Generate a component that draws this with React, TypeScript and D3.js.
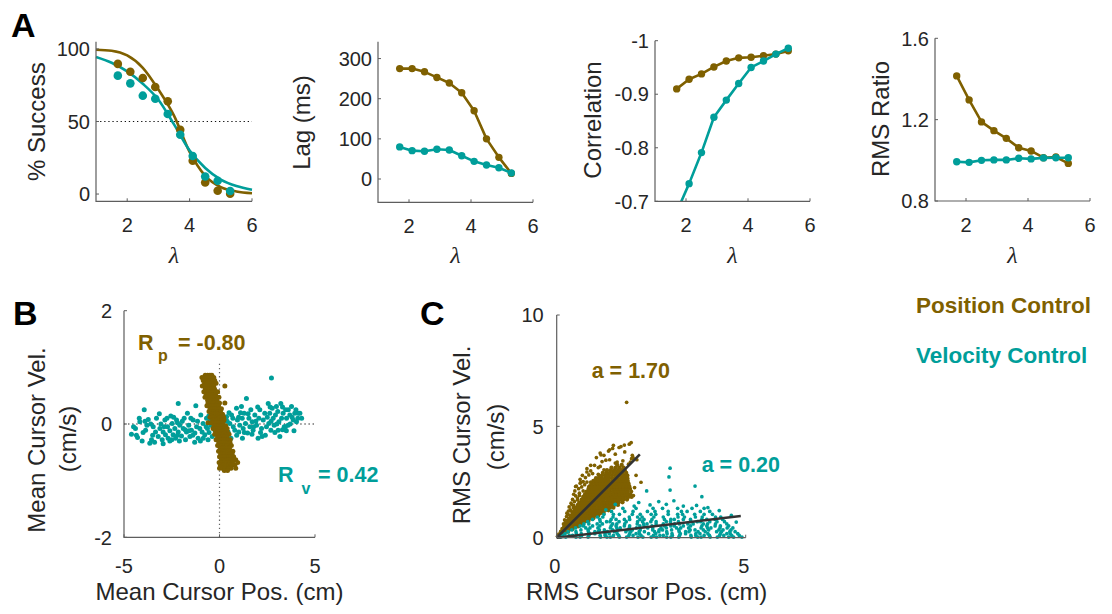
import React from "react";
import * as d3 from "d3";

const BROWN = "#7F6000";
const TEAL = "#009E9A";
const AXIS = "#5E5E5E";
const INK = "#262626";
const SANS = "'Liberation Sans', Arial, Helvetica, sans-serif";
const SERIF = "'Liberation Serif', 'Times New Roman', serif";

// ---------- Panel A data ----------
const lambdas = [1.7, 2.1, 2.5, 2.9, 3.3, 3.7, 4.1, 4.5, 4.9, 5.3];
const successPos = [89.7, 84.3, 80, 73.8, 63.9, 44.3, 23, 8, 2.3, 0.2];
const successVel = [81.6, 76.3, 67.8, 65.7, 55.2, 40.9, 26.2, 12.1, 9.2, 2.1];
const fitLambdas = [1, 1.5, 2, 2.5, 3, 3.5, 4, 4.5, 5, 5.5, 6];
const successFitPos = [99.5, 98.8, 95.5, 87, 72, 54, 29, 12.5, 4.8, 1.8, 0.6];
const successFitVel = [94.5, 90.5, 84.5, 76, 65, 48, 30, 18, 10, 5.5, 3];
const lagPos = [275, 275, 267, 253, 239, 215, 170, 100, 54, 14];
const lagVel = [80, 70.6, 69, 74, 72.3, 58, 44, 35, 28, 15];
const corrPos = [-0.91, -0.928, -0.938, -0.951, -0.962, -0.968, -0.969, -0.972, -0.975, -0.981];
const corrVel = [-0.68, -0.733, -0.791, -0.857, -0.889, -0.92, -0.95, -0.962, -0.975, -0.986];
const rmsPos = [1.415, 1.297, 1.189, 1.146, 1.108, 1.062, 1.046, 1.013, 1.016, 0.985];
const rmsVel = [0.993, 0.99, 1.0, 1.002, 1.002, 1.01, 1.007, 1.012, 1.013, 1.013];

const lambdaTicks = [2, 4, 6];
const successTicks = [0, 50, 100];
const lagTicks = [0, 100, 200, 300];
const corrTicks = [-1, -0.9, -0.8, -0.7];
const corrTickLabels = ["-1", "-0.9", "-0.8", "-0.7"];
const rmsTicks = [0.8, 1.2, 1.6];
const rmsTickLabels = ["0.8", "1.2", "1.6"];

// ---------- Panel B data: [mean cursor pos, mean cursor vel] ----------
const bVelCtrl: [number, number][] = [
  [-4.61, -0.18], [-4.29, -0.24], [-4.17, 0.04], [-3.94, 0.25], [-3.87, -0.11], [-3.73, 0.08], [-3.65, -0.34],
  [-3.56, -0.28], [-3.47, -0.05], [-3.35, -0.14], [-3.3, 0.1], [-3.21, -0.22], [-3.12, -0.08], [-3.07, 0.0],
  [-3.0, -0.28], [-2.95, -0.14], [-2.86, 0.07], [-2.83, -0.19], [-2.72, -0.05], [-2.69, -0.25], [-2.6, -0.12],
  [-2.55, 0.14], [-2.48, 0.01], [-2.43, -0.19], [-2.34, -0.08], [-2.3, -0.25], [-2.25, 0.07], [-2.16, 0.36],
  [-2.16, -0.14], [-2.08, -0.02], [-1.99, -0.21], [-1.9, -0.08], [-1.85, 0.1], [-1.78, -0.28], [-1.73, -0.14],
  [-1.68, 0.19], [-1.61, -0.02], [-1.55, -0.22], [-1.47, -0.11], [-1.38, 0.07], [-1.29, -0.16], [-1.24, 0.32],
  [-1.2, -0.05], [-1.12, -0.25], [-1.03, -0.08], [-0.98, 0.16], [-0.91, -0.14], [-0.86, 0.01], [-0.77, -0.19],
  [-0.68, 0.1], [-0.63, -0.08], [-0.56, 0.14], [-0.45, -0.02], [-0.38, -0.22], [-0.33, 0.04],
  [-0.24, -0.11], [-0.16, 0.1], [-0.07, -0.16], [0.1, -0.02], [0.19, -0.22],
  [0.28, -0.05], [0.37, 0.13], [0.45, -0.14], [0.54, 0.01], [0.63, 0.16], [0.72, -0.05], [0.8, -0.11],
  [0.89, 0.28], [0.94, 0.07], [1.01, -0.14], [1.06, -0.02], [1.15, 0.31], [1.19, 0.1], [1.24, -0.08],
  [1.29, 0.19], [1.36, 0.01], [1.41, 0.45], [1.47, -0.16], [1.54, 0.1], [1.59, -0.05], [1.64, 0.25],
  [1.71, 0.04], [1.76, -0.11], [1.85, 0.16], [1.94, -0.02], [2.02, -0.25], [2.06, 0.1], [2.11, 0.25],
  [2.2, -0.08], [2.23, -0.22], [2.29, 0.07], [2.37, 0.19], [2.46, -0.05], [2.55, 0.36], [2.58, 0.01],
  [2.63, 0.19], [2.69, -0.11], [2.72, 0.81], [2.76, 0.28], [2.81, 0.1], [2.86, -0.02], [2.93, 0.16],
  [2.98, 0.31], [3.07, -0.11], [3.11, 0.04], [3.16, -0.22], [3.21, 0.36], [3.25, 0.1], [3.33, 0.19],
  [3.39, -0.05], [3.46, 0.25], [3.51, 0.1], [3.59, -0.02], [3.68, 0.16], [3.77, 0.31], [3.86, 0.07],
  [3.94, 0.19], [4.03, 0.04], [4.12, 0.19], [4.21, 0.19],
  [-4.0, -0.15], [-3.5, -0.2], [-2.9, -0.05], [-2.5, -0.28], [-2.1, -0.3], [-1.6, -0.12], [-1.0, -0.3],
  [-0.6, -0.28], [0.6, -0.25], [1.2, -0.25], [1.9, 0.05], [2.4, -0.2], [3.0, 0.0], [3.5, -0.12],
  [3.8, 0.12], [4.0, 0.25], [-4.4, -0.08], [-3.8, -0.02], [-2.2, 0.02], [-1.4, -0.2], [-0.5, 0.05],
  [0.4, 0.05], [1.0, 0.12], [1.7, -0.18], [2.7, 0.05], [3.3, -0.1], [4.3, 0.1],
  [-4.5, -0.05], [-4.35, -0.2], [-4.05, -0.3], [-3.9, 0.05], [-3.6, 0.0], [-3.4, -0.32], [-3.15, 0.18],
  [-2.95, -0.35], [-2.75, 0.1], [-2.6, -0.3], [-2.4, 0.12], [-2.2, -0.2], [-1.95, 0.05], [-1.8, -0.1],
  [-1.5, 0.1], [-1.3, -0.32], [-1.15, 0.05], [-0.85, -0.25], [-0.7, -0.05], [-0.55, -0.15], [0.5, 0.2],
  [0.7, 0.1], [0.9, -0.2], [1.1, 0.2], [1.3, -0.15], [1.5, 0.18], [1.8, -0.05], [2.0, 0.3], [2.15, -0.15],
  [2.5, 0.12], [2.65, 0.3], [2.9, -0.15], [3.05, 0.22], [3.3, 0.3], [3.45, -0.05], [3.6, 0.25], [3.7, 0.0],
  [3.9, -0.12], [4.1, 0.1], [-4.2, 0.1],
];
// Position control: rows of [mean cursor vel, then mean cursor pos values at that velocity]
const bPosRows: number[][] = [
  [0.86, -0.75, -0.62, -0.5, -0.4],
  [0.82, -0.92, -0.8, -0.68, -0.56, -0.44, -0.3],
  [0.77, -0.85, -0.72, -0.6, -0.48, -0.36, -0.25],
  [0.72, -0.78, -0.66, -0.54, -0.42, -0.3, -0.18],
  [0.67, -0.9, -0.77, -0.64, -0.52, -0.4, -0.3, 0.28],
  [0.62, -0.74, -0.62, -0.5, -0.38, -0.26],
  [0.57, -0.82, -0.7, -0.58, -0.46, -0.34, -0.22, -0.1],
  [0.52, -0.7, -0.57, -0.45, -0.33, -0.21],
  [0.47, -0.76, -0.63, -0.5, -0.38, -0.26, -0.14, -0.03],
  [0.42, -0.62, -0.5, -0.38, -0.26, -0.14],
  [0.37, -0.6, -0.47, -0.35, -0.23, -0.11, 0.0, 0.28],
  [0.32, -0.66, -0.53, -0.41, -0.29, -0.17, -0.05],
  [0.27, -0.5, -0.38, -0.26, -0.14, -0.02, 0.1],
  [0.22, -0.55, -0.43, -0.31, -0.19, -0.07, 0.05],
  [0.17, -0.44, -0.32, -0.2, -0.08, 0.04, 0.16],
  [0.12, -0.5, -0.37, -0.25, -0.13, -0.01, 0.11, 0.22],
  [0.07, -0.36, -0.24, -0.12, 0.0, 0.12, 0.24],
  [0.02, -0.6, -0.42, -0.3, -0.18, -0.06, 0.06, 0.18],
  [-0.03, -0.28, -0.16, -0.04, 0.08, 0.2, 0.32],
  [-0.08, -0.34, -0.22, -0.1, 0.02, 0.14, 0.26, 0.4],
  [-0.13, -0.2, -0.08, 0.04, 0.16, 0.28, 0.4],
  [-0.18, -0.25, -0.13, 0.0, 0.12, 0.24, 0.36, 0.5],
  [-0.23, -0.1, 0.02, 0.14, 0.26, 0.38],
  [-0.28, -0.18, -0.05, 0.08, 0.2, 0.32, 0.44, 0.56],
  [-0.33, -0.04, 0.08, 0.2, 0.32, 0.44, 0.55],
  [-0.38, -0.1, 0.02, 0.14, 0.26, 0.38, 0.5, 0.62],
  [-0.43, 0.04, 0.16, 0.28, 0.4, 0.52],
  [-0.48, -0.05, 0.08, 0.2, 0.32, 0.44, 0.56, 0.7],
  [-0.53, 0.06, 0.18, 0.3, 0.42, 0.55, 0.66],
  [-0.58, 0.0, 0.12, 0.24, 0.36, 0.48, 0.6, 0.74],
  [-0.63, 0.1, 0.22, 0.34, 0.46, 0.58, 0.72, 0.85],
  [-0.68, -0.02, 0.12, 0.26, 0.4, 0.54, 0.68, 0.95],
  [-0.73, 0.05, 0.2, 0.35, 0.5, 0.62, 0.8],
  [-0.78, 0.0, 0.15, 0.3, 0.46, 0.6, 0.85],
  [-0.82, 0.25, 0.42],
];
const rowsToPoints = (rows: number[][]) =>
  rows.flatMap(([y, ...xs]) => xs.map((x) => [x, y] as [number, number]));
const bPosCtrl = rowsToPoints(bPosRows);
const bZeroLineTop = 1.1;

// ---------- Panel C data: rows of [rms cursor vel, then rms cursor pos values] ----------
const cPosRows: number[][] = [
  [0.06, 0.03, 0.06],
  [0.15, 0.06, 0.1, 0.15],
  [0.27, 0.11, 0.16, 0.2, 0.26, 0.3],
  [0.39, 0.15, 0.2, 0.26, 0.31, 0.37, 0.42],
  [0.51, 0.2, 0.25, 0.31, 0.36, 0.42, 0.47, 0.53, 0.57],
  [0.63, 0.24, 0.3, 0.35, 0.41, 0.47, 0.52, 0.58, 0.64, 0.7],
  [0.75, 0.28, 0.34, 0.41, 0.46, 0.53, 0.58, 0.65, 0.71, 0.77, 0.84],
  [0.87, 0.33, 0.39, 0.46, 0.52, 0.59, 0.65, 0.72, 0.78, 0.85, 0.9, 0.97],
  [0.99, 0.37, 0.44, 0.5, 0.58, 0.64, 0.71, 0.77, 0.85, 0.91, 0.98, 1.03, 1.1],
  [1.11, 0.42, 0.49, 0.55, 0.62, 0.7, 0.76, 0.83, 0.9, 0.97, 1.04, 1.11, 1.16, 1.24],
  [1.23, 0.47, 0.54, 0.6, 0.68, 0.75, 0.82, 0.88, 0.96, 1.03, 1.1, 1.17, 1.24, 1.28, 1.37],
  [1.35, 0.51, 0.58, 0.66, 0.72, 0.8, 0.87, 0.94, 1.01, 1.09, 1.15, 1.23, 1.3, 1.37, 1.41, 1.5],
  [1.47, 0.56, 0.63, 0.7, 0.78, 0.85, 0.92, 1.0, 1.07, 1.14, 1.22, 1.29, 1.36, 1.44, 1.52, 1.62],
  [1.59, 0.6, 0.68, 0.75, 0.82, 0.9, 0.97, 1.05, 1.12, 1.2, 1.27, 1.35, 1.42, 1.5, 1.57, 1.64, 1.74],
  [1.71, 0.66, 0.73, 0.8, 0.88, 0.95, 1.03, 1.1, 1.18, 1.25, 1.33, 1.4, 1.48, 1.55, 1.63, 1.7, 1.77, 1.86],
  [1.83, 0.7, 0.77, 0.85, 0.92, 1.0, 1.08, 1.15, 1.23, 1.3, 1.38, 1.46, 1.53, 1.61, 1.68, 1.76, 1.83, 1.9, 1.98],
  [1.95, 0.75, 0.82, 0.9, 0.98, 1.05, 1.13, 1.2, 1.28, 1.36, 1.43, 1.51, 1.58, 1.66, 1.74, 1.81, 1.88, 1.95],
  [2.07, 0.79, 0.87, 0.95, 1.02, 1.1, 1.18, 1.26, 1.33, 1.41, 1.49, 1.56, 1.64, 1.72, 1.8, 1.87, 1.97],
  [2.19, 0.84, 0.92, 1.0, 1.08, 1.15, 1.23, 1.31, 1.39, 1.47, 1.54, 1.62, 1.7, 1.78, 1.86, 1.94],
  [2.31, 0.88, 0.96, 1.04, 1.12, 1.2, 1.28, 1.36, 1.44, 1.52, 1.6, 1.68, 1.76, 1.84, 1.92],
  [2.43, 0.92, 1.01, 1.09, 1.17, 1.25, 1.33, 1.41, 1.5, 1.58, 1.66, 1.74, 1.82, 1.9],
  [2.55, 0.97, 1.05, 1.14, 1.22, 1.3, 1.38, 1.47, 1.55, 1.63, 1.72, 1.8, 1.88],
  [2.67, 1.04, 1.12, 1.2, 1.29, 1.37, 1.46, 1.54, 1.62, 1.71, 1.79, 1.87],
  [2.79, 1.12, 1.2, 1.29, 1.37, 1.46, 1.55, 1.63, 1.72, 1.8, 1.87],
  [2.91, 1.22, 1.31, 1.4, 1.49, 1.58, 1.66, 1.75, 1.84],
  [3.03, 1.33, 1.43, 1.52, 1.62, 1.71, 1.8],
  [3.15, 1.45, 1.56, 1.66, 1.77],
  [3.27, 1.6, 1.72],
];
const cPosScatter: [number, number][] = [
  [0.5, 2.3], [0.64, 2.48], [0.8, 2.5], [1.0, 3.25], [1.17, 3.72], [1.3, 3.48], [1.37, 3.89], [1.48, 4.01],
  [1.7, 4.09], [1.79, 4.16], [1.85, 6.08], [1.97, 4.27], [1.95, 3.4], [2.02, 3.6], [2.12, 3.5], [2.23, 2.49],
  [2.03, 1.89], [0.45, 1.45], [0.55, 1.7], [0.6, 1.9], [0.7, 2.1], [0.9, 2.5], [1.1, 2.85], [1.15, 3.2],
  [1.25, 3.05], [2.06, 2.25], [2.1, 2.8], [0.38, 1.2], [0.85, 2.3], [1.55, 3.35],
  [0.18, 0.62], [0.21, 0.8], [0.26, 0.95], [0.24, 0.72], [0.3, 1.05],
  [0.27, 1.1], [0.33, 1.38], [0.36, 1.25], [0.4, 1.48], [0.31, 1.2], [0.44, 1.35],
  [0.38, 1.55], [0.42, 1.72], [0.47, 1.62], [0.5, 1.88], [0.45, 1.95], [0.55, 1.78], [0.6, 2.0],
  [0.48, 2.1], [0.52, 2.32], [0.58, 2.2], [0.62, 2.45], [0.66, 2.28], [0.7, 2.52], [0.74, 2.38],
  [0.62, 2.62], [0.68, 2.8], [0.76, 2.7], [0.8, 2.95], [0.85, 2.82], [0.9, 3.0], [0.95, 2.88],
  [0.8, 3.1], [0.9, 3.25], [1.1, 3.15], [1.2, 3.42], [1.4, 3.5], [1.6, 3.4], [1.75, 3.45], [1.9, 3.3],
  [1.98, 3.55], [1.05, 3.6], [1.15, 3.8], [1.25, 3.7], [1.4, 3.95], [1.55, 3.75], [1.65, 4.05], [1.8, 3.85],
  [1.92, 4.2], [1.5, 4.15], [2.0, 3.7],
];
const cVelRows: number[][] = [
  [0.03, 0.1, 0.24, 0.51, 0.62, 0.83, 1.16, 1.33, 1.42, 1.66, 1.85, 2.15, 2.28, 2.5, 2.64, 2.91, 3.02, 3.23,
    3.56, 3.73, 3.82, 4.06, 4.25, 4.55, 4.68, 4.9],
  [0.1, 0.16, 0.33, 0.42, 0.66, 0.85, 1.15, 1.28, 1.5, 1.64, 1.91, 2.02, 2.23, 2.56, 2.73, 2.82, 3.06, 3.25,
    3.55, 3.68, 3.9, 4.04, 4.31, 4.42, 4.63, 4.83],
  [0.18, 0.22, 0.52, 0.65, 0.87, 1.01, 1.28, 1.39, 1.6, 1.93, 2.1, 2.19, 2.43, 2.62, 2.92, 3.05, 3.27, 3.41,
    3.68, 3.79, 4.0, 4.33, 4.5, 4.59, 4.79],
  [0.27, 0.3, 0.51, 0.84, 1.01, 1.1, 1.34, 1.53, 1.83, 1.96, 2.18, 2.32, 2.59, 2.7, 2.91, 3.24, 3.41, 3.5,
    3.74, 3.93, 4.23, 4.36, 4.58, 4.72],
  [0.35, 0.4, 0.64, 0.83, 1.13, 1.26, 1.48, 1.62, 1.89, 2.0, 2.21, 2.54, 2.71, 2.8, 3.04, 3.23, 3.53, 3.66,
    3.88, 4.02, 4.29, 4.4, 4.61],
  [0.44, 0.5, 0.77, 0.88, 1.09, 1.42, 1.59, 1.68, 1.92, 2.11, 2.41, 2.54, 2.76, 2.9, 3.17, 3.28, 3.49, 3.82,
    3.99, 4.08, 4.32, 4.51, 4.66],
  [0.53, 0.62, 0.71, 0.95, 1.14, 1.44, 1.57, 1.79, 1.93, 2.2, 2.31, 2.52, 2.85, 3.02, 3.11, 3.35, 3.54, 3.84,
    3.97, 4.19, 4.33, 4.55],
  [0.62, 0.72, 0.85, 1.07, 1.21, 1.48, 1.59, 1.8, 2.13, 2.3, 2.39, 2.63, 2.82, 3.12, 3.25, 3.47, 3.61, 3.88,
    3.99, 4.2, 4.5],
  [0.72, 0.82, 1.15, 1.32, 1.41, 1.65, 1.84, 2.14, 2.27, 2.49, 2.63, 2.9, 3.01, 3.22, 3.55, 3.72, 3.81, 4.05,
    4.24, 4.44],
  [0.82, 0.95, 1.14, 1.44, 1.57, 1.79, 1.93, 2.2, 2.31, 2.52, 2.85, 3.02, 3.11, 3.35, 3.54, 3.84, 3.97, 4.19, 4.39],
  [0.93, 1.08, 1.22, 1.49, 1.92, 2.14, 2.26, 2.57, 2.82, 3.21, 3.38, 3.67, 3.85, 4.2, 4.34],
  [1.05, 1.25, 1.5, 1.66, 2.0, 2.21, 2.5, 2.62, 2.95, 3.2, 3.33, 3.65, 3.9, 4.12],
  [1.18, 1.45, 1.8, 2.02, 2.4, 2.6, 2.95, 3.3, 3.45, 3.8, 4.05],
  [1.32, 1.75, 2.1, 2.55, 2.8, 3.2, 3.58, 3.9],
];
const cVelScatter: [number, number][] = [
  [2.05, 1.42], [2.17, 1.58], [2.47, 1.47], [2.9, 1.5], [3.1, 1.66], [3.35, 1.42], [3.7, 1.45], [4.0, 1.35],
  [4.3, 1.22], [1.55, 1.5], [2.38, 2.1], [2.97, 2.73], [3.0, 3.12], [3.0, 2.14], [3.66, 2.32], [3.84, 1.84],
  [4.62, 1.0], [4.75, 0.7], [1.3, 1.25], [2.7, 1.62],
];
const cPosCoreCount = rowsToPoints(cPosRows).length;
const cPosCtrl = [...rowsToPoints(cPosRows), ...cPosScatter];
const cVelCtrl = [...rowsToPoints(cVelRows), ...cVelScatter];
const cFitSlopes = [1.7, 0.2];
const cFitXEnd = [2.2, 4.87];
const cFitLabels = ["a = 1.70", "a = 0.20"];

// ---------- helpers ----------
type Box = { x0: number; x1: number; y0: number; y1: number };

function XTicksLambda({ xs, box }: { xs: d3.ScaleLinear<number, number>; box: Box }) {
  return (
    <g>
      {lambdaTicks.map((t) => (
        <g key={t}>
          <line x1={xs(t)} x2={xs(t)} y1={box.y1} y2={box.y1 - 3} stroke={AXIS} strokeWidth={1} />
          <text x={xs(t)} y={box.y1 + 31} textAnchor="middle" fontSize={20} fill={INK} fontFamily={SANS}>
            {t}
          </text>
        </g>
      ))}
      <text x={(box.x0 + box.x1) / 2} y={263} textAnchor="middle" fontSize={24} fontStyle="italic" fill={INK} fontFamily={SERIF}>
        λ
      </text>
    </g>
  );
}

function YTicks({ ys, box, ticks, labels }: { ys: d3.ScaleLinear<number, number>; box: Box; ticks: number[]; labels: string[] }) {
  return (
    <g>
      {ticks.map((t, i) => (
        <g key={t}>
          <line x1={box.x0} x2={box.x0 + 3} y1={ys(t)} y2={ys(t)} stroke={AXIS} strokeWidth={1} />
          <text x={box.x0 - 6} y={ys(t)} dy="0.36em" textAnchor="end" fontSize={20} fill={INK} fontFamily={SANS}>
            {labels[i]}
          </text>
        </g>
      ))}
    </g>
  );
}

function Axes({ box }: { box: Box }) {
  return <path d={`M${box.x0},${box.y0}V${box.y1}H${box.x1}`} fill="none" stroke={AXIS} strokeWidth={1.2} />;
}

function YLabel({ x, y, text }: { x: number; y: number; text: string }) {
  return (
    <text transform={`translate(${x},${y}) rotate(-90)`} textAnchor="middle" fontSize={24} fill={INK} fontFamily={SANS}>
      {text}
    </text>
  );
}

type LinePanelProps = {
  id: string;
  box: Box;
  yDomain: [number, number];
  ticks: number[];
  labels: string[];
  ylabel: string;
  labelX: number;
  labelY: number;
  pos: number[];
  vel: number[];
};

function LinePanel(p: LinePanelProps) {
  const xs = d3.scaleLinear().domain([1, 6]).range([p.box.x0, p.box.x1]);
  const ys = d3.scaleLinear().domain(p.yDomain).range([p.box.y1, p.box.y0]);
  const line = d3
    .line<number>()
    .x((_, i) => xs(lambdas[i]))
    .y((d) => ys(d));
  const clip = `clip-${p.id}`;
  return (
    <g>
      <defs>
        <clipPath id={clip}>
          <rect x={p.box.x0 - 10} y={p.box.y0 - 10} width={p.box.x1 - p.box.x0 + 20} height={p.box.y1 - p.box.y0 + 10} />
        </clipPath>
      </defs>
      <g clipPath={`url(#${clip})`}>
        {[
          { d: p.pos, c: BROWN },
          { d: p.vel, c: TEAL },
        ].map((s, k) => (
          <g key={k}>
            <path d={line(s.d) || ""} fill="none" stroke={s.c} strokeWidth={2.6} strokeLinejoin="round" />
            {s.d.map((v, i) =>
              ys(v) <= p.box.y1 ? <circle key={i} cx={xs(lambdas[i])} cy={ys(v)} r={3.7} fill={s.c} /> : null
            )}
          </g>
        ))}
      </g>
      <Axes box={p.box} />
      <YTicks ys={ys} box={p.box} ticks={p.ticks} labels={p.labels} />
      <XTicksLambda xs={xs} box={p.box} />
      <YLabel x={p.labelX} y={p.labelY} text={p.ylabel} />
    </g>
  );
}

function SuccessPanel() {
  const box: Box = { x0: 96, x1: 252, y0: 41.7, y1: 201.3 };
  const xs = d3.scaleLinear().domain([1, 6]).range([box.x0, box.x1]);
  const ys = d3.scaleLinear().domain([-5, 105]).range([box.y1, box.y0]);
  const fitLine = d3
    .line<number>()
    .x((_, i) => xs(fitLambdas[i]))
    .y((d) => ys(d))
    .curve(d3.curveMonotoneX);
  return (
    <g>
      <line x1={xs(1)} x2={xs(6)} y1={ys(50)} y2={ys(50)} stroke="#111" strokeWidth={1.2} strokeDasharray="1.3 2.8" />
      <path d={fitLine(successFitPos) || ""} fill="none" stroke={BROWN} strokeWidth={2.6} />
      <path d={fitLine(successFitVel) || ""} fill="none" stroke={TEAL} strokeWidth={2.6} />
      {successPos.map((v, i) => (
        <circle key={"p" + i} cx={xs(lambdas[i])} cy={ys(v)} r={4.3} fill={BROWN} />
      ))}
      {successVel.map((v, i) => (
        <circle key={"v" + i} cx={xs(lambdas[i])} cy={ys(v)} r={4.3} fill={TEAL} />
      ))}
      <Axes box={box} />
      <YTicks ys={ys} box={box} ticks={successTicks} labels={successTicks.map(String)} />
      <XTicksLambda xs={xs} box={box} />
      <YLabel x={45} y={121.7} text="% Success" />
    </g>
  );
}

function PanelB() {
  const box: Box = { x0: 124, x1: 315, y0: 310.7, y1: 537.3 };
  const xs = d3.scaleLinear().domain([-5, 5]).range([box.x0, box.x1]);
  const ys = d3.scaleLinear().domain([-2, 2]).range([box.y1, box.y0]);
  const xt = [-5, 0, 5];
  const yt = [-2, 0, 2];
  return (
    <g>
      <line x1={xs(-5)} x2={xs(5)} y1={ys(0)} y2={ys(0)} stroke="#111" strokeWidth={1.2} strokeDasharray="1.3 2.8" />
      <line x1={xs(0)} x2={xs(0)} y1={ys(-2)} y2={ys(bZeroLineTop)} stroke="#666" strokeWidth={1.2} strokeDasharray="1.3 2.8" />
      {bVelCtrl.map((d, i) => (
        <circle key={"v" + i} cx={xs(d[0])} cy={ys(d[1])} r={2.5} fill={TEAL} />
      ))}
      {bPosCtrl.map((d, i) => (
        <circle key={"p" + i} cx={xs(d[0])} cy={ys(d[1])} r={2.5} fill={BROWN} />
      ))}
      <Axes box={box} />
      {xt.map((t) => (
        <g key={t}>
          <line x1={xs(t)} x2={xs(t)} y1={box.y1} y2={box.y1 - 3} stroke={AXIS} />
          <text x={xs(t)} y={573} textAnchor="middle" fontSize={20} fill={INK} fontFamily={SANS}>{t}</text>
        </g>
      ))}
      {yt.map((t) => (
        <g key={t}>
          <line x1={box.x0} x2={box.x0 + 3} y1={ys(t)} y2={ys(t)} stroke={AXIS} />
          <text x={112} y={ys(t)} dy="0.36em" textAnchor="end" fontSize={20} fill={INK} fontFamily={SANS}>{t}</text>
        </g>
      ))}
      <YLabel x={45} y={440} text="Mean Cursor Vel." />
      <YLabel x={76} y={439} text="(cm/s)" />
      <text x={(box.x0 + box.x1) / 2} y={600} textAnchor="middle" fontSize={24} fill={INK} fontFamily={SANS}>
        Mean Cursor Pos. (cm)
      </text>
      <g fontFamily={SANS} fontWeight="bold">
        <text x={138} y={350} fontSize={21.5} fill={BROWN}>R</text>
        <text x={158} y={361} fontSize={16} fill={BROWN}>p</text>
        <text x={178} y={350} fontSize={21.5} fill={BROWN}>= -0.80</text>
        <text x={278} y={481.7} fontSize={21.5} fill={TEAL}>R</text>
        <text x={301.5} y={494} fontSize={16} fill={TEAL}>v</text>
        <text x={318} y={481.7} fontSize={21.5} fill={TEAL}>= 0.42</text>
      </g>
    </g>
  );
}

function PanelC() {
  const box: Box = { x0: 556.7, x1: 745.7, y0: 315, y1: 537.7 };
  const xs = d3.scaleLinear().domain([0, 5]).range([box.x0, box.x1]);
  const ys = d3.scaleLinear().domain([0, 10]).range([box.y1, box.y0]);
  const xt = [0, 5];
  const yt = [0, 5, 10];
  const labelPos: [number, number][] = [
    [591.7, 378],
    [701.7, 471.7],
  ];
  return (
    <g>
      {cPosCtrl.map((d, i) => (
        <circle key={"p" + i} cx={xs(d[0])} cy={ys(d[1])} r={i < cPosCoreCount ? 2.15 : 1.85} fill={BROWN} />
      ))}
      {cVelCtrl.map((d, i) => (
        <circle key={"v" + i} cx={xs(d[0])} cy={ys(d[1])} r={1.85} fill={TEAL} />
      ))}
      {cFitSlopes.map((a, i) => (
        <line key={i} x1={xs(0)} y1={ys(0)} x2={xs(cFitXEnd[i])} y2={ys(a * cFitXEnd[i])} stroke="#333" strokeWidth={2.6} />
      ))}
      <Axes box={box} />
      {xt.map((t) => (
        <g key={t}>
          <line x1={xs(t)} x2={xs(t)} y1={box.y1} y2={box.y1 - 3} stroke={AXIS} />
          <text x={xs(t) - 2} y={573} textAnchor="middle" fontSize={20} fill={INK} fontFamily={SANS}>{t}</text>
        </g>
      ))}
      {yt.map((t) => (
        <g key={t}>
          <line x1={box.x0} x2={box.x0 + 3} y1={ys(t)} y2={ys(t)} stroke={AXIS} />
          <text x={box.x0 - 13} y={ys(t)} dy="0.36em" textAnchor="end" fontSize={20} fill={INK} fontFamily={SANS}>{t}</text>
        </g>
      ))}
      <YLabel x={470} y={435} text="RMS Cursor Vel." />
      <YLabel x={504} y={437} text="(cm/s)" />
      <text x={646.7} y={600} textAnchor="middle" fontSize={24} fill={INK} fontFamily={SANS}>
        RMS Cursor Pos. (cm)
      </text>
      {cFitLabels.map((s, i) => (
        <text key={s} x={labelPos[i][0]} y={labelPos[i][1]} fontSize={21.5} fontWeight="bold" fill={i === 0 ? BROWN : TEAL} fontFamily={SANS}>
          {s}
        </text>
      ))}
    </g>
  );
}

export default function App() {
  return (
    <svg width={1112} height={614} viewBox="0 0 1112 614" style={{ position: "absolute", left: 0, top: 0, background: "#fff" }}>
      <rect x={0} y={0} width={1112} height={614} fill="#fff" />
      <g fontFamily={SANS} fontWeight="bold" fill="#000" fontSize={34}>
        <text x={11} y={37}>A</text>
        <text x={13} y={325}>B</text>
        <text x={420} y={325}>C</text>
      </g>
      <SuccessPanel />
      <LinePanel id="lag" box={{ x0: 378, x1: 533, y0: 41.7, y1: 202.3 }} yDomain={[-58, 342]} ticks={lagTicks}
        labels={lagTicks.map(String)} ylabel="Lag (ms)" labelX={310} labelY={122.5} pos={lagPos} vel={lagVel} />
      <LinePanel id="corr" box={{ x0: 655, x1: 810, y0: 40.7, y1: 201.3 }} yDomain={[-0.7, -1]} ticks={corrTicks}
        labels={corrTickLabels} ylabel="Correlation" labelX={601} labelY={120} pos={corrPos} vel={corrVel} />
      <LinePanel id="rms" box={{ x0: 935, x1: 1090, y0: 38.3, y1: 201 }} yDomain={[0.8, 1.6]} ticks={rmsTicks}
        labels={rmsTickLabels} ylabel="RMS Ratio" labelX={889} labelY={119} pos={rmsPos} vel={rmsVel} />
      <PanelB />
      <PanelC />
      <g fontFamily={SANS} fontWeight="bold" fontSize={22.5}>
        <text x={916} y={312.5} fill={BROWN}>Position Control</text>
        <text x={916} y={363} fill={TEAL}>Velocity Control</text>
      </g>
    </svg>
  );
}
